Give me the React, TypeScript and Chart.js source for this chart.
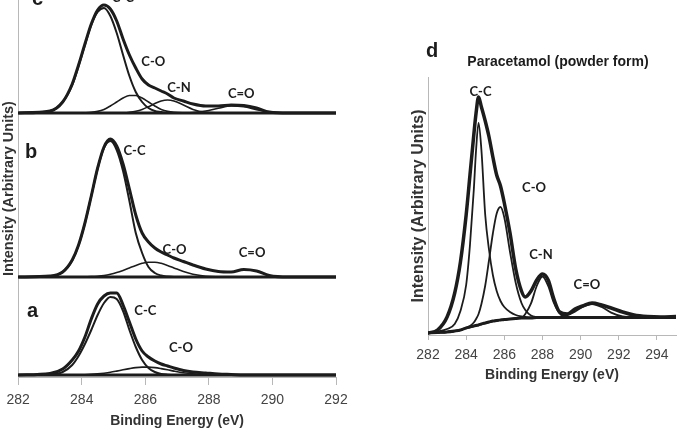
import { useEffect, useRef } from 'react';
import { Chart, registerables } from 'chart.js';

Chart.register(...registerables);

const INK = '#1c1c1c';
const AXIS = '#b8b8b8';
const SANS = '"Liberation Sans", Arial, sans-serif';
const PEAK_FONT = 'bold 13px Lato, "Liberation Sans", sans-serif';
const TAG_FONT = 'bold 20px "Liberation Sans", Arial, sans-serif';
const HEAD_FONT = 'bold 14px "Liberation Sans", Arial, sans-serif';

// ---------- C 1s spectra a, b, c (shared binding-energy grid, eV) ----------
const energyLeft = [282, 283, 283.4, 283.7, 283.9, 284.1, 284.3, 284.5, 284.7, 284.9, 285.1, 285.3, 285.5, 285.7, 285.9, 286.1, 286.3, 286.5, 286.7, 286.9, 287.2, 287.5, 287.9, 288.3, 288.7, 289.1, 289.5, 289.9, 290.5, 291, 292];

// spectrum c
const envelopeC = [0, 2, 11, 29, 48, 69, 89, 103, 108, 104, 92, 74, 58, 45, 34, 28, 25, 22, 19, 15, 12, 9, 7, 7, 8, 7.5, 5, 1, 0, 0, 0];
const ccC = [0, 2, 11, 28, 47, 68, 88, 101, 105, 97, 80, 58, 37, 21, 11, 5, 2, 1, 0, 0, 0, 0, 0, 0, 0, 0, 0, 0, 0, 0, 0];
const coC = [0, 0, 0, 0, 0, 0.2, 0.6, 1.6, 3.6, 7, 11, 15, 17.5, 17.5, 15, 11, 7, 3.6, 1.6, 0.6, 0.1, 0, 0, 0, 0, 0, 0, 0, 0, 0, 0];
const cnC = [0, 0, 0, 0, 0, 0, 0, 0, 0, 0, 0, 0, 0.7, 1.8, 3.6, 6.3, 9.4, 12, 13, 12, 8, 3.6, 0.7, 0.1, 0, 0, 0, 0, 0, 0, 0];
const cdoC = [0, 0, 0, 0, 0, 0, 0, 0, 0, 0, 0, 0, 0, 0, 0, 0, 0, 0, 0, 0, 0.1, 0.5, 2, 4.8, 7, 6.2, 3.4, 1, 0.1, 0, 0];

// spectrum b
const envelopeB = [0, 1, 5, 17, 32, 54, 81, 109, 130, 138, 131, 113, 88, 62, 44, 35, 29, 25, 22, 19, 15.5, 12, 8, 5.5, 5, 7.5, 6, 1.5, 0, 0, 0];
const ccB = [0, 0.7, 5, 16.6, 31.7, 53.8, 81, 108.5, 129, 136, 127, 106, 76, 44, 24, 10, 4, 1.5, 0.5, 0, 0, 0, 0, 0, 0, 0, 0, 0, 0, 0, 0];
const coB = [0, 0, 0, 0, 0, 0.2, 0.4, 0.8, 1.5, 2.7, 4.4, 6.6, 9.1, 11.6, 13.7, 14.8, 14.8, 13.7, 11.6, 9.1, 5.4, 2.7, 0.8, 0.2, 0, 0, 0, 0, 0, 0, 0];

// spectrum a
const envelopeA = [0, 1.5, 6, 15, 24, 38, 56, 71, 79, 82, 82, 70, 53, 36, 24, 18, 14, 11, 9, 7, 4.5, 3, 2, 1, 0.5, 0, 0, 0, 0, 0, 0];
const ccA = [0, 0.5, 3, 10, 19, 31, 45, 60, 72, 78, 76, 64, 45, 28, 15, 7, 3, 1, 0.3, 0, 0, 0, 0, 0, 0, 0, 0, 0, 0, 0, 0];
const coA = [0, 0, 0, 0, 0.2, 0.3, 0.6, 1.1, 1.8, 2.7, 3.9, 5.2, 6.4, 7.4, 7.9, 7.9, 7.4, 6.4, 5.2, 3.9, 2.2, 1.1, 0.3, 0.1, 0, 0, 0, 0, 0, 0, 0];

// flat background under each of a, b, c
const baselineEnergy = [282, 292];
const baselineLevel = [0, 0];

const ticksLeft = [282, 284, 286, 288, 290, 292];

// ---------- d: paracetamol (powder form) ----------
const energyRight = [282, 282.5, 283, 283.4, 283.7, 284.0, 284.2, 284.4, 284.52, 284.65, 284.8, 285.0, 285.2, 285.4, 285.6, 285.8, 286.0, 286.3, 286.6, 286.9, 287.1, 287.4, 287.7, 288.0, 288.3, 288.6, 288.9, 289.3, 289.7, 290.1, 290.6, 291.1, 291.6, 292.2, 292.8, 293.5, 294.2, 295];
const envelopeD = [2, 5, 18, 42, 73, 120, 160, 200, 222, 238, 228, 214, 198, 178, 160, 149, 132, 102, 66, 44, 38, 44, 55, 61, 55, 36, 23, 21, 26, 29, 32, 30, 27, 23, 20, 18.5, 18, 18.5];
const backgroundD = [2, 2.5, 3, 4, 5, 7, 8, 9, 9.5, 10, 11, 12, 13, 14, 14.5, 15, 15.5, 16, 16.5, 17, 17, 17, 17.5, 17.5, 17.5, 17.5, 17.5, 17.5, 17.5, 17.5, 17.5, 17.5, 17.5, 17.5, 17.5, 17.5, 17.5, 17.5];
const ccD = [2, 3.5, 6, 11, 24, 50, 90, 145, 185, 212, 185, 120, 85, 60, 44, 34, 28, 23, 20, 18.5, 18, 17.5, 17.5, 17.5, 17.5, 17.5, 17.5, 17.5, 17.5, 17.5, 17.5, 17.5, 17.5, 17.5, 17.5, 17.5, 17.5, 17.5];
const coD = [2, 2.5, 3, 4, 5, 7, 9, 12.5, 16, 21, 31, 49.5, 75, 101.5, 121.5, 128, 117.5, 83, 52, 32, 25, 19.5, 18, 17.5, 17.5, 17.5, 17.5, 17.5, 17.5, 17.5, 17.5, 17.5, 17.5, 17.5, 17.5, 17.5, 17.5, 17.5];
const cnD = [2, 2.5, 3, 4, 5, 7, 8, 9, 9.5, 10, 11, 12, 13, 14, 14.5, 15, 15.5, 16, 16.5, 17, 21, 31.6, 49, 58.5, 49, 32, 21.6, 17.8, 17.5, 17.5, 17.5, 17.5, 17.5, 17.5, 17.5, 17.5, 17.5, 17.5];
const cdoD = [2, 2.5, 3, 4, 5, 7, 8, 9, 9.5, 10, 11, 12, 13, 14, 14.5, 15, 15.5, 16, 16.5, 17, 17, 17, 17.5, 17.5, 17.5, 17.5, 18.2, 19.9, 23.4, 28, 31, 28, 22.4, 18.5, 17.6, 17.5, 17.5, 17.5];

const ticksRight = [282, 284, 286, 288, 290, 292, 294];

// peak assignments, placed in data coordinates of their own spectrum
type PeakLabel = { text: string; energy: number; level: number; axis: string };
const peaksLeft: PeakLabel[] = [
  { text: 'C-C', energy: 285.29, level: 115, axis: 'yC' },
  { text: 'C-O', energy: 286.25, level: 51, axis: 'yC' },
  { text: 'C-N', energy: 287.06, level: 25, axis: 'yC' },
  { text: 'C=O', energy: 289.02, level: 19, axis: 'yC' },
  { text: 'C-C', energy: 285.66, level: 126.5, axis: 'yB' },
  { text: 'C-O', energy: 286.92, level: 27, axis: 'yB' },
  { text: 'C=O', energy: 289.36, level: 24, axis: 'yB' },
  { text: 'C-C', energy: 286.0, level: 64.5, axis: 'yA' },
  { text: 'C-O', energy: 287.12, level: 27, axis: 'yA' },
];
const peaksRight: PeakLabel[] = [
  { text: 'C-C', energy: 284.75, level: 243.5, axis: 'y' },
  { text: 'C-O', energy: 287.56, level: 147, axis: 'y' },
  { text: 'C-N', energy: 287.92, level: 80, axis: 'y' },
  { text: 'C=O', energy: 290.33, level: 50, axis: 'y' },
];

type Tag = { text: string; x: number; y: number; font: string; align: CanvasTextAlign; base: CanvasTextBaseline };
const tagsLeft: Tag[] = [
  { text: 'c', x: 32, y: 5, font: TAG_FONT, align: 'left', base: 'alphabetic' },
  { text: 'b', x: 25, y: 158, font: TAG_FONT, align: 'left', base: 'alphabetic' },
  { text: 'a', x: 27, y: 317, font: TAG_FONT, align: 'left', base: 'alphabetic' },
];
const tagsRight: Tag[] = [
  { text: 'd', x: 26, y: 27, font: TAG_FONT, align: 'left', base: 'alphabetic' },
  { text: 'Paracetamol (powder form)', x: 158, y: 32, font: HEAD_FONT, align: 'center', base: 'middle' },
];

function points(xs: number[], ys: number[]) {
  return xs.map((x, i) => ({ x, y: ys[i] }));
}

function trace(xs: number[], ys: number[], axis: string, width: number) {
  return {
    data: points(xs, ys),
    yAxisID: axis,
    borderColor: INK,
    borderWidth: width,
    pointRadius: 0,
    pointHoverRadius: 0,
    fill: false,
    cubicInterpolationMode: 'monotone' as const,
    borderJoinStyle: 'round' as const,
    borderCapStyle: 'round' as const,
  };
}

function annotations(labels: PeakLabel[], tags: Tag[]) {
  return {
    id: 'peakAnnotations',
    afterDatasetsDraw(chart: Chart) {
      const ctx = chart.ctx;
      ctx.save();
      ctx.fillStyle = INK;
      ctx.textAlign = 'center';
      ctx.textBaseline = 'middle';
      ctx.font = PEAK_FONT;
      for (const l of labels) {
        const px = chart.scales.x.getPixelForValue(l.energy);
        const py = chart.scales[l.axis].getPixelForValue(l.level);
        ctx.fillText(l.text, px, py);
      }
      for (const t of tags) {
        ctx.font = t.font;
        ctx.textAlign = t.align;
        ctx.textBaseline = t.base;
        ctx.fillText(t.text, t.x, t.y);
      }
      ctx.restore();
    },
  };
}

function energyAxis(min: number, max: number, ticks: number[], height: number, tickLength: number, titlePad: number) {
  return {
    type: 'linear' as const,
    min,
    max,
    afterBuildTicks: (s: any) => {
      s.ticks = ticks.map((value) => ({ value }));
    },
    afterFit: (s: any) => {
      s.height = height;
    },
    grid: { drawOnChartArea: false, drawTicks: true, tickLength, color: AXIS },
    border: { display: true, color: AXIS, width: 1 },
    ticks: { color: '#444', padding: 6.5, font: { family: SANS, size: 14 } },
    title: {
      display: true,
      text: 'Binding Energy (eV)',
      color: '#333',
      font: { family: SANS, size: 14, weight: 'bold' as const },
      padding: { top: 0, bottom: titlePad },
    },
  };
}

function intensityTitle(size: number, pad: number, lineHeight: number) {
  return {
    display: true,
    text: 'Intensity (Arbitrary Units)',
    color: '#333',
    font: { family: SANS, size, weight: 'bold' as const, lineHeight },
    padding: { top: pad, bottom: 0 },
  };
}

export default function App() {
  const leftRef = useRef<HTMLCanvasElement>(null);
  const rightRef = useRef<HTMLCanvasElement>(null);

  useEffect(() => {
    const common = {
      responsive: false,
      animation: false as const,
      events: [] as any[],
      plugins: { legend: { display: false }, tooltip: { enabled: false } },
    };

    const left = new Chart(leftRef.current!, {
      type: 'line',
      data: {
        datasets: [
          trace(energyLeft, envelopeC, 'yC', 3),
          trace(energyLeft, ccC, 'yC', 2),
          trace(energyLeft, coC, 'yC', 1.6),
          trace(energyLeft, cnC, 'yC', 1.6),
          trace(energyLeft, cdoC, 'yC', 1.6),
          trace(baselineEnergy, baselineLevel, 'yC', 3),
          trace(energyLeft, envelopeB, 'yB', 3),
          trace(energyLeft, ccB, 'yB', 2),
          trace(energyLeft, coB, 'yB', 1.6),
          trace(baselineEnergy, baselineLevel, 'yB', 3),
          trace(energyLeft, envelopeA, 'yA', 3),
          trace(energyLeft, ccA, 'yA', 2),
          trace(energyLeft, coA, 'yA', 1.6),
          trace(baselineEnergy, baselineLevel, 'yA', 3),
        ],
      },
      options: {
        ...common,
        layout: { padding: { top: 0, right: 24, bottom: 0, left: 0 } },
        scales: {
          x: energyAxis(282, 292, ticksLeft, 55, 8, 2),
          yA: {
            type: 'linear',
            position: 'left',
            min: -2,
            max: 375,
            afterFit: (s: any) => {
              s.width = 14;
            },
            grid: { display: false },
            ticks: { display: false },
            border: { display: true, color: AXIS, width: 1 },
            title: intensityTitle(14.5, -2, 1),
          },
          yB: { type: 'linear', position: 'left', min: -100, max: 277, display: false },
          yC: { type: 'linear', position: 'left', min: -264, max: 113, display: false },
        },
      },
      plugins: [annotations(peaksLeft, tagsLeft)],
    } as any);

    const right = new Chart(rightRef.current!, {
      type: 'line',
      data: {
        datasets: [
          trace(energyRight, envelopeD, 'y', 3.5),
          trace(energyRight, ccD, 'y', 1.8),
          trace(energyRight, coD, 'y', 1.8),
          trace(energyRight, cnD, 'y', 1.8),
          trace(energyRight, cdoD, 'y', 1.8),
          trace(energyRight, backgroundD, 'y', 3),
        ],
      },
      options: {
        ...common,
        layout: { padding: { top: 47, right: 1, bottom: 0, left: 0 } },
        scales: {
          x: energyAxis(282, 295, ticksRight, 55, 5, 6.5),
          y: {
            type: 'linear',
            position: 'left',
            min: 0,
            max: 258,
            afterFit: (s: any) => {
              s.width = 28;
            },
            grid: { display: false },
            ticks: { display: false },
            border: { display: true, color: AXIS, width: 1 },
            title: intensityTitle(16, 9, 1.2),
          },
        },
      },
      plugins: [annotations(peaksRight, tagsRight)],
    } as any);

    return () => {
      left.destroy();
      right.destroy();
    };
  }, []);

  return (
    <div style={{ position: 'absolute', left: 0, top: 0, width: 677, height: 432, background: '#fff', overflow: 'hidden' }}>
      <canvas ref={leftRef} width={360} height={432} style={{ position: 'absolute', left: 0, top: 0 }} />
      <canvas ref={rightRef} width={277} height={360} style={{ position: 'absolute', left: 400, top: 30 }} />
    </div>
  );
}
